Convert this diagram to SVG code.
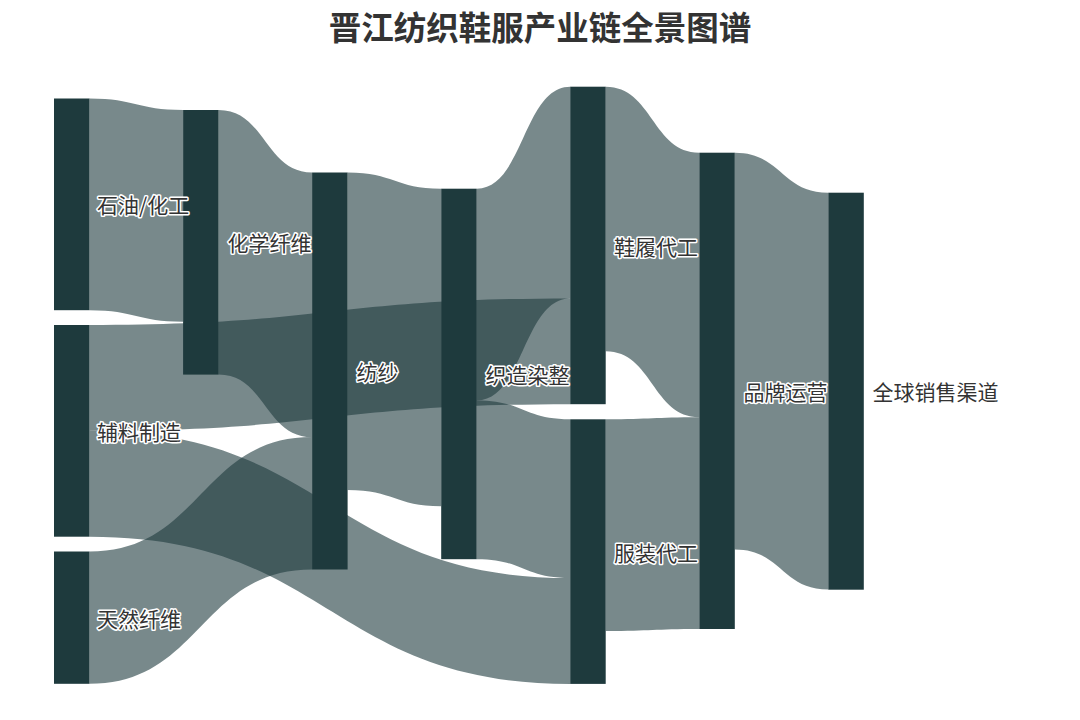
<svg xmlns="http://www.w3.org/2000/svg" width="1080" height="720" viewBox="0 0 1080 720">
<style>
.node{fill:#1e3a3d}
.link{fill:#1e3a3d;fill-opacity:0.6}
.lbl{font-family:"Noto Sans CJK SC","Noto Sans",sans-serif;font-size:21px;fill:#333;stroke:#fff;stroke-width:3px;stroke-linejoin:round;paint-order:stroke;dominant-baseline:central}
.title{font-family:"Noto Sans CJK SC","Noto Sans",sans-serif;font-size:32.5px;font-weight:bold;fill:#333;text-anchor:middle;dominant-baseline:central}
</style>
<rect width="1080" height="720" fill="#fff"/>
<text class="title" x="540" y="25">晋江纺织鞋服产业链全景图谱</text>
<g id="links">
<path id="link-A-D" class="link" d="M89.5,98.5 C136.3,98.5 136.3,110 183.1,110 L183.1,321.7 C136.3,321.7 136.3,310.2 89.5,310.2 Z"/>
<path id="link-B-G" class="link" d="M89.5,325 C329.85,325 329.85,298.4 570.2,298.4 L570.2,404.2 C329.85,404.2 329.85,430.8 89.5,430.8 Z"/>
<path id="link-B-H" class="link" d="M89.5,430.8 C329.85,430.8 329.85,578.1 570.2,578.1 L570.2,683.9 C329.85,683.9 329.85,536.7 89.5,536.7 Z"/>
<path id="link-C-E" class="link" d="M89.5,551.5 C200.8,551.5 200.8,437.1 312.1,437.1 L312.1,569.4 C200.8,569.4 200.8,683.8 89.5,683.8 Z"/>
<path id="link-D-E" class="link" d="M218.6,110 C265.35,110 265.35,172.5 312.1,172.5 L312.1,437.1 C265.35,437.1 265.35,374.6 218.6,374.6 Z"/>
<path id="link-E-F" class="link" d="M347.6,172.5 C394.4,172.5 394.4,188.7 441.2,188.7 L441.2,506.2 C394.4,506.2 394.4,490 347.6,490 Z"/>
<path id="link-F-G" class="link" d="M476.7,188.7 C523.45,188.7 523.45,86.7 570.2,86.7 L570.2,298.4 C523.45,298.4 523.45,400.4 476.7,400.4 Z"/>
<path id="link-F-H" class="link" d="M476.7,400.4 C523.45,400.4 523.45,419.3 570.2,419.3 L570.2,578.1 C523.45,578.1 523.45,559.2 476.7,559.2 Z"/>
<path id="link-G-I" class="link" d="M605.7,86.7 C652.5,86.7 652.5,152.7 699.3,152.7 L699.3,417.3 C652.5,417.3 652.5,351.3 605.7,351.3 Z"/>
<path id="link-H-I" class="link" d="M605.7,419.3 C652.5,419.3 652.5,417.3 699.3,417.3 L699.3,629 C652.5,629 652.5,631 605.7,631 Z"/>
<path id="link-I-J" class="link" d="M734.8,152.7 C781.55,152.7 781.55,192.7 828.3,192.7 L828.3,589.6 C781.55,589.6 781.55,549.6 734.8,549.6 Z"/>
</g>
<g id="nodes">
<g id="node-A"><rect class="node" x="54" y="98.5" width="35.5" height="211.7"/></g>
<g id="node-B"><rect class="node" x="54" y="325" width="35.5" height="211.7"/></g>
<g id="node-C"><rect class="node" x="54" y="551.5" width="35.5" height="132.3"/></g>
<g id="node-D"><rect class="node" x="183.1" y="110" width="35.5" height="264.6"/></g>
<g id="node-E"><rect class="node" x="312.1" y="172.5" width="35.5" height="397"/></g>
<g id="node-F"><rect class="node" x="441.2" y="188.7" width="35.5" height="370.5"/></g>
<g id="node-G"><rect class="node" x="570.2" y="86.7" width="35.5" height="317.5"/></g>
<g id="node-H"><rect class="node" x="570.2" y="419.3" width="35.5" height="264.6"/></g>
<g id="node-I"><rect class="node" x="699.3" y="152.7" width="35.5" height="476.3"/></g>
<g id="node-J"><rect class="node" x="828.3" y="192.7" width="35.5" height="397"/></g>
</g>
<g id="labels">
<text class="lbl" x="97" y="204.4">石油/化工</text>
<text class="lbl" x="97" y="430.9">辅料制造</text>
<text class="lbl" x="97" y="617.7">天然纤维</text>
<text class="lbl" x="227.5" y="242.3">化学纤维</text>
<text class="lbl" x="356.5" y="371">纺纱</text>
<text class="lbl" x="485.5" y="374">织造染整</text>
<text class="lbl" x="614" y="245.5">鞋履代工</text>
<text class="lbl" x="614" y="551.6">服装代工</text>
<text class="lbl" x="743.5" y="390.9">品牌运营</text>
<text class="lbl" x="872.5" y="391.2">全球销售渠道</text>
</g>
</svg>
